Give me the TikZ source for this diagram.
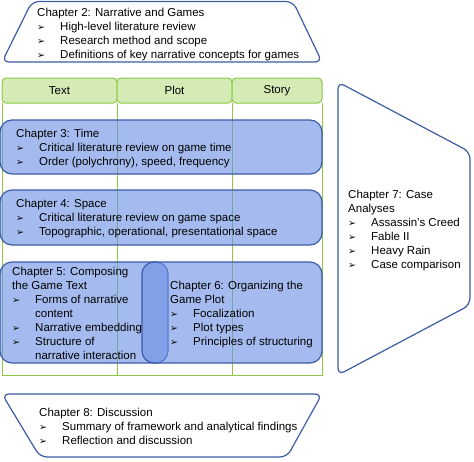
\documentclass[tikz,border=0pt]{standalone}
\usepackage{fontspec}
\setmainfont{Liberation Sans}
\newfontfamily\arrowfont{DejaVu Sans}
\newcommand{\bl}{\makebox[23pt][l]{\arrowfont\fontsize{9.5}{14}\selectfont ➢}}
\newcommand{\ind}{\hspace*{23pt}}

\begin{document}
\begin{tikzpicture}[x=1pt,y=-1pt,
	chap/.style={anchor=north west,inner sep=0pt,align=left,font=\fontsize{11.5}{14}\selectfont},
	chapframe/.style={draw=chapblue,line width=1.2pt,rounded corners=7pt,fill=white},
	chapbox/.style={draw=chapblue,line width=1.2pt,rounded corners=12pt,fill=boxblue,fill opacity=0.6,draw opacity=1},
	lanes/.style={draw=lanegreen,line width=1pt},
	colhead/.style={lanes,fill=headgreen,rounded corners=4pt}]
	
	\definecolor{chapblue}{RGB}{60,92,165}
	\definecolor{boxblue}{RGB}{105,142,228}
	\definecolor{lanegreen}{RGB}{140,200,70}
	\definecolor{headgreen}{RGB}{212,235,182}
	
	\useasboundingbox (0,0) rectangle (474,461);
	
	% columns
	\draw[lanes] (2,103) -- (2,375) -- (322,375) -- (322,103);
	\draw[lanes] (117,103) -- (117,375);
	\draw[lanes] (232,103) -- (232,375);
	\draw[colhead] (2,78) rectangle (117,103);
	\draw[colhead] (117,78) rectangle (232,103);
	\draw[colhead] (232,78) rectangle (322,103);
	\node[font=\fontsize{11.5}{14}\selectfont] (text) at (59.5,90.5) {Text};
	\node[font=\fontsize{11.5}{14}\selectfont] (plot) at (174.5,90.5) {Plot};
	\node[font=\fontsize{11.5}{14}\selectfont] (story) at (277,90.5) {Story};
	
	% outer chapters
	\draw[chapframe] (32,1.5) -- (293,1.5) -- (322,62) -- (2,62) -- cycle;
	\draw[chapframe] (2,394) -- (322,394) -- (287,457) -- (40,457) -- cycle;
	\draw[chapframe] (338,82) -- (470,152) -- (470,305) -- (338,375) -- cycle;
	
	% chapter boxes
	\draw[chapbox] (0,120) rectangle (322,174);
	\draw[chapbox] (0,190) rectangle (322,245);
	\draw[chapbox] (0,262) rectangle (168,363);
	\draw[chapbox] (142,262) rectangle (322,363);
	
	\node[chap] (ch2) at (37,8) {Chapter 2: Narrative and Games\\
		\bl High-level literature review\\
		\bl Research method and scope\\
		\bl Definitions of key narrative concepts for games};
	\node[chap] (ch3) at (16,129) {Chapter 3: Time\\
		\bl Critical literature review on game time\\
		\bl Order (polychrony), speed, frequency};
	\node[chap] (ch4) at (16,199) {Chapter 4: Space\\
		\bl Critical literature review on game space\\
		\bl Topographic, operational, presentational space};
	\node[chap] (ch5) at (12,267) {Chapter 5: Composing\\
		the Game Text\\
		\bl Forms of narrative\\
		\ind content\\
		\bl Narrative embedding\\
		\bl Structure of\\
		\ind narrative interaction};
	\node[chap] (ch6) at (170,281) {Chapter 6: Organizing the\\
		Game Plot\\
		\bl Focalization\\
		\bl Plot types\\
		\bl Principles of structuring};
	\node[chap] (ch7) at (348,190) {Chapter 7: Case\\
		Analyses\\
		\bl Assassin’s Creed\\
		\bl Fable II\\
		\bl Heavy Rain\\
		\bl Case comparison};
	\node[chap] (ch8) at (39,408) {Chapter 8: Discussion\\
		\bl Summary of framework and analytical findings\\
		\bl Reflection and discussion};
\end{tikzpicture}
\end{document}
